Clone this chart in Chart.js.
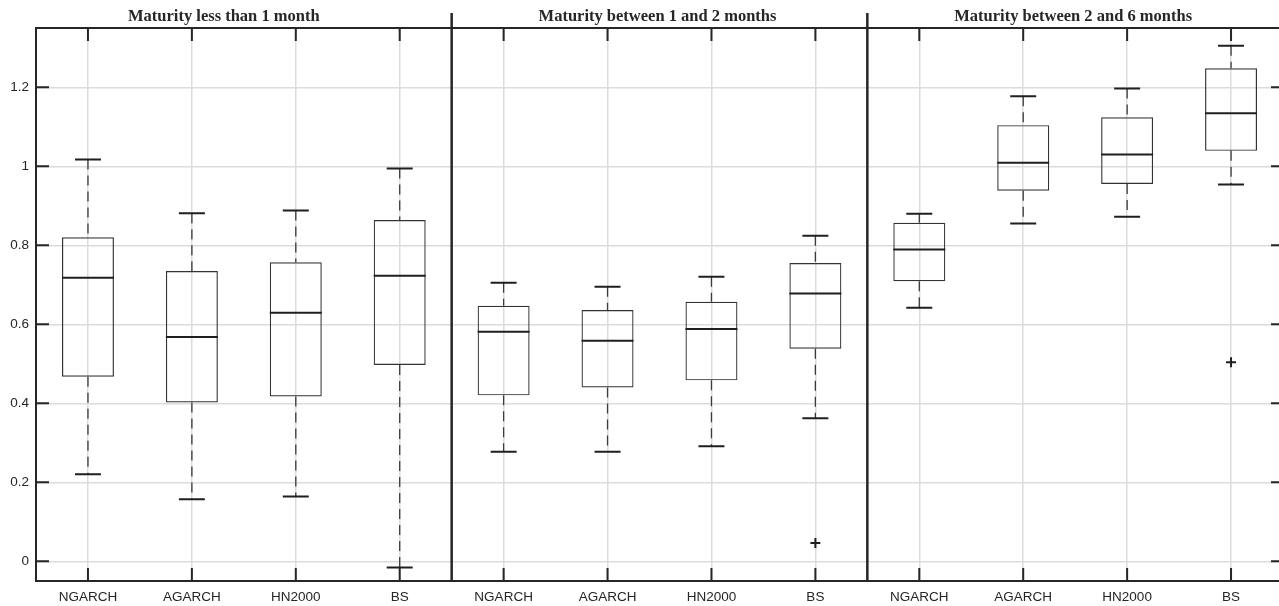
<!DOCTYPE html>
<html>
<head>
<meta charset="utf-8">
<script src="https://cdn.jsdelivr.net/npm/chart.js@4"></script>
<style>
  html, body { margin: 0; padding: 0; background: #fff; overflow: hidden; }
  #wrap { width: 1290px; height: 606px; }
</style>
</head>
<body>
<div id="wrap"><canvas id="chart"></canvas></div>
<script>
const models = ['NGARCH', 'AGARCH', 'HN2000', 'BS'];
const groupTitles = [
    'Maturity less than 1 month',
    'Maturity between 1 and 2 months',
    'Maturity between 2 and 6 months'
];
const categories = [...models, ...models, ...models];

const whiskerLow  = [0.220, 0.157, 0.164, -0.016, 0.277, 0.277, 0.291, 0.362, 0.642, 0.855, 0.872, 0.954];
const quart1      = [0.467, 0.402, 0.417, 0.497, 0.420, 0.440, 0.458, 0.538, 0.709, 0.938, 0.955, 1.039];
const medians     = [0.718, 0.568, 0.629, 0.723, 0.581, 0.558, 0.588, 0.678, 0.789, 1.009, 1.030, 1.134];
const quart3      = [0.820, 0.735, 0.757, 0.864, 0.647, 0.636, 0.657, 0.755, 0.857, 1.104, 1.124, 1.248];
const whiskerHigh = [1.017, 0.881, 0.888, 0.994, 0.705, 0.695, 0.720, 0.824, 0.880, 1.177, 1.197, 1.305];
const outliers    = [null, null, null, null, null, null, null, 0.046, null, null, null, 0.504];

const yTicks = [0, 0.2, 0.4, 0.6, 0.8, 1, 1.2];

const ink = '#262626';

// whiskers, medians, frame, inward ticks, separators and group titles
const boxExtras = {
    id: 'boxExtras',
    afterDatasetsDraw(chart) {
        const { ctx, scales: { x, y } } = chart;
        const step = x.getPixelForValue(1) - x.getPixelForValue(0);
        const boxHalf = step * 0.25;
        const capHalf = step * 0.125;
        ctx.save();
        categories.forEach((c, i) => {
            const cx = x.getPixelForValue(i);
            // dashed whiskers
            ctx.strokeStyle = '#3a3a3a';
            ctx.lineWidth = 1.3;
            ctx.setLineDash([10, 6]);
            ctx.beginPath();
            ctx.moveTo(cx, y.getPixelForValue(whiskerHigh[i]));
            ctx.lineTo(cx, y.getPixelForValue(quart3[i]));
            ctx.moveTo(cx, y.getPixelForValue(quart1[i]));
            ctx.lineTo(cx, y.getPixelForValue(whiskerLow[i]));
            ctx.stroke();
            ctx.setLineDash([]);
            // caps
            ctx.strokeStyle = '#1f1f1f';
            ctx.lineWidth = 2;
            ctx.beginPath();
            [whiskerHigh[i], whiskerLow[i]].forEach(v => {
                const py = y.getPixelForValue(v);
                ctx.moveTo(cx - capHalf, py);
                ctx.lineTo(cx + capHalf, py);
            });
            ctx.stroke();
            // median
            const my = y.getPixelForValue(medians[i]);
            ctx.beginPath();
            ctx.moveTo(cx - boxHalf, my);
            ctx.lineTo(cx + boxHalf, my);
            ctx.stroke();
        });
        ctx.restore();
    },
    afterDraw(chart) {
        const { ctx, chartArea: a, scales: { x, y } } = chart;
        ctx.save();
        ctx.strokeStyle = ink;
        ctx.lineWidth = 2;
        // inward ticks
        ctx.beginPath();
        yTicks.forEach(v => {
            const py = y.getPixelForValue(v);
            ctx.moveTo(a.left, py); ctx.lineTo(a.left + 13, py);
            ctx.moveTo(a.right - 12, py); ctx.lineTo(a.right, py);
        });
        categories.forEach((c, i) => {
            const px = x.getPixelForValue(i);
            ctx.moveTo(px, a.top); ctx.lineTo(px, a.top + 13);
            ctx.moveTo(px, a.bottom - 13); ctx.lineTo(px, a.bottom);
        });
        ctx.stroke();
        // frame
        ctx.strokeRect(a.left, a.top, a.right - a.left, a.bottom - a.top);
        // group separators
        const edges = [0];
        ctx.lineWidth = 2.5;
        ctx.beginPath();
        for (let g = 1; g < groupTitles.length; g++) {
            const sx = x.getPixelForValue(g * models.length - 0.5);
            edges.push(sx);
            ctx.moveTo(sx, a.top - 15);
            ctx.lineTo(sx, a.bottom);
        }
        ctx.stroke();
        edges.push(a.right);
        // titles
        ctx.fillStyle = ink;
        ctx.font = 'bold 16.5px "Liberation Serif", "Times New Roman", serif';
        ctx.textAlign = 'center';
        ctx.textBaseline = 'alphabetic';
        groupTitles.forEach((t, g) => {
            ctx.fillText(t, (edges[g] + edges[g + 1]) / 2 - 2, a.top - 7);
        });
        ctx.restore();
    }
};

new Chart(document.getElementById('chart'), {
    data: {
        labels: categories,
        datasets: [{
            type: 'bar',
            data: quart1.map((v, i) => [v, quart3[i]]),
            backgroundColor: 'rgba(0,0,0,0)',
            borderColor: '#333333',
            borderWidth: 1.2,
            borderSkipped: false,
            barPercentage: 0.5,
            categoryPercentage: 1
        }, {
            type: 'line',
            data: outliers,
            showLine: false,
            pointStyle: 'cross',
            pointRadius: 5,
            pointBorderWidth: 2,
            pointBorderColor: '#1f1f1f'
        }]
    },
    options: {
        responsive: true,
        maintainAspectRatio: false,
        animation: false,
        events: [],
        layout: { padding: { top: 28, right: 6, left: 0, bottom: 0 } },
        plugins: { legend: { display: false }, tooltip: { enabled: false } },
        scales: {
            x: {
                type: 'category',
                offset: true,
                afterFit: s => { s.height = 25; },
                border: { display: false },
                grid: { offset: false, color: '#dcdcdc', lineWidth: 1.5, drawTicks: false },
                ticks: { color: ink, padding: 8, maxRotation: 0, autoSkip: false,
                         font: { family: '"Liberation Sans", Arial, sans-serif', size: 13.5 } }
            },
            y: {
                min: -0.05,
                max: 1.35,
                afterFit: s => { s.width = 36; },
                afterBuildTicks: s => { s.ticks = yTicks.map(v => ({ value: v })); },
                border: { display: false },
                grid: { color: '#dcdcdc', lineWidth: 1.5, drawTicks: false },
                ticks: { color: ink, padding: 7,
                         callback: v => String(Math.round(v * 10) / 10),
                         font: { family: '"Liberation Sans", Arial, sans-serif', size: 13.5 } }
            }
        }
    },
    plugins: [boxExtras]
});
</script>
</body>
</html>
